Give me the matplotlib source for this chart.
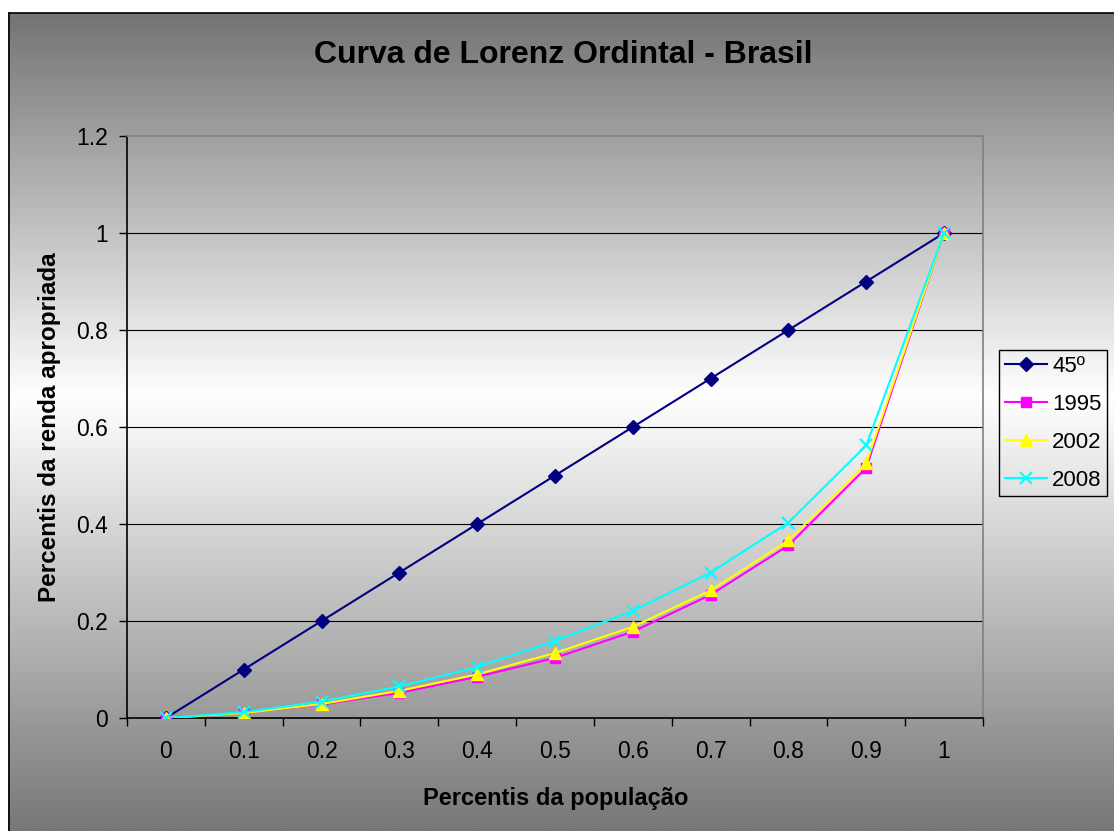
import numpy as np
import matplotlib
matplotlib.use("Agg")
import matplotlib.pyplot as plt
from matplotlib.colors import LinearSegmentedColormap
from matplotlib.lines import Line2D

plt.rcParams['font.family'] = ['Liberation Sans', 'DejaVu Sans']

# Population percentiles (categories) and income share series
categories = ["0", "0.1", "0.2", "0.3", "0.4", "0.5", "0.6", "0.7", "0.8", "0.9", "1"]
line_45 = [0.0, 0.1, 0.2, 0.3, 0.4, 0.5, 0.6, 0.7, 0.8, 0.9, 1.0]
y1995 = [0.0, 0.010, 0.028, 0.052, 0.085, 0.124, 0.178, 0.254, 0.356, 0.516, 1.0]
y2002 = [0.0, 0.010, 0.029, 0.056, 0.090, 0.134, 0.188, 0.263, 0.366, 0.525, 1.0]
y2008 = [0.0, 0.012, 0.034, 0.065, 0.105, 0.159, 0.221, 0.300, 0.403, 0.562, 1.0]
series_labels = ["45º", "1995", "2002", "2008"]
yticks = [0, 0.2, 0.4, 0.6, 0.8, 1.0, 1.2]
ytick_labels = ["0", "0.2", "0.4", "0.6", "0.8", "1", "1.2"]

W, H = 1114, 831
fig = plt.figure(figsize=(W / 100, H / 100), dpi=100)
fig.patch.set_facecolor("white")

# Chart-area background: vertical gray -> white -> gray gradient
x0, ytop = 8, 13
bg = fig.add_axes([x0 / W, 0, 1 - x0 / W, 1 - ytop / H])
bg.set_axis_off()
rows = np.linspace(0, 1, 400)
cmap = LinearSegmentedColormap.from_list(
    "chartbg", [(0.0, "#747474"), (0.47, "#ffffff"), (1.0, "#787878")])
bg.imshow(rows[:, None], aspect="auto", cmap=cmap, extent=[0, 1, 0, 1],
          vmin=0, vmax=1, origin="upper")
bg.set_xlim(0, 1)
bg.set_ylim(0, 1)
bg.plot([0.0005, 0.0005], [0, 0.9995], color="black", lw=1.2, clip_on=False)
bg.plot([0.0005, 1], [0.9995, 0.9995], color="black", lw=1.2, clip_on=False)

# Plot area
left, right, top, bottom = 127, 983, 136, 718
ax = fig.add_axes([left / W, 1 - bottom / H, (right - left) / W, (bottom - top) / H])
ax.set_facecolor("none")

x = np.arange(len(categories))
ax.plot(x, line_45, color="#000080", lw=1.5, marker="D", ms=7, zorder=3)
ax.plot(x, y1995, color="#ff00ff", lw=1.5, marker="s", ms=6.5, zorder=4)
ax.plot(x, y2002, color="#ffff00", lw=1.5, marker="^", ms=8, zorder=5)
ax.plot(x, y2008, color="#00ffff", lw=1.5, marker="x", ms=8, mew=1.5, zorder=6)

ax.set_xlim(-0.5, len(categories) - 0.5)
ax.set_ylim(0, 1.2)

# Category axis: ticks between categories, labels centred on them
ax.set_xticks(np.arange(-0.5, len(categories), 1.0))
ax.set_xticklabels([])
ax.set_xticks(x, minor=True)
ax.set_xticklabels(categories, minor=True, fontsize=16.5)
ax.tick_params(axis="x", which="major", direction="out", length=6, width=1, color="black")
ax.tick_params(axis="x", which="minor", length=0, pad=16)

ax.set_yticks(yticks)
ax.set_yticklabels(ytick_labels, fontsize=16.5)
ax.tick_params(axis="y", direction="out", length=6, width=1, color="black", pad=8)

for yv in yticks[1:-1]:
    ax.axhline(yv, color="black", lw=0.8, zorder=1)

ax.spines["left"].set_color("black")
ax.spines["bottom"].set_color("black")
ax.spines["top"].set_color("#808080")
ax.spines["right"].set_color("#808080")
for s in ax.spines.values():
    s.set_linewidth(1.2)

fig.text(563 / W, 1 - 55 / H, "Curva de Lorenz Ordintal - Brasil", fontsize=23,
         fontweight="bold", ha="center", va="center")
fig.text(556 / W, 1 - 799 / H, "Percentis da população", fontsize=17,
         fontweight="bold", ha="center", va="center")
fig.text(50 / W, 1 - 427 / H, "Percentis da renda apropriada", fontsize=17.5,
         fontweight="bold", ha="center", va="center", rotation=90)

handles = [
    Line2D([], [], color="#000080", lw=1.5, marker="D", ms=7),
    Line2D([], [], color="#ff00ff", lw=1.5, marker="s", ms=6.5),
    Line2D([], [], color="#ffff00", lw=1.5, marker="^", ms=8),
    Line2D([], [], color="#00ffff", lw=1.5, marker="x", ms=8, mew=1.5),
]
leg = fig.legend(handles, series_labels, loc="upper left",
                 bbox_to_anchor=(999 / W, 1 - 350 / H), borderaxespad=0,
                 fontsize=16, frameon=True, fancybox=False,
                 edgecolor="black", handlelength=1.9, handletextpad=0.25,
                 borderpad=0.25, labelspacing=0.77)
frame = leg.get_frame()
frame.set_facecolor("none")
frame.set_edgecolor("black")
frame.set_alpha(None)
frame.set_linewidth(1.0)

fig.savefig("out.png", dpi=100)
